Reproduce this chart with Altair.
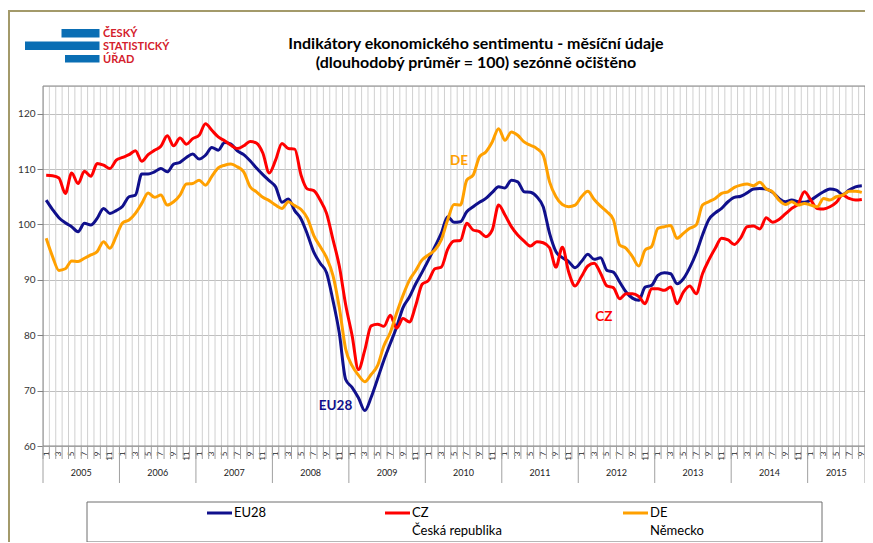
import altair as alt
import pandas as pd

# ---------------- data (monthly, Jan 2005 .. Sep 2015) ----------------
years = [2005, 2006, 2007, 2008, 2009, 2010, 2011, 2012, 2013, 2014, 2015]
year_months = [12, 12, 12, 12, 12, 12, 12, 12, 12, 12, 9]
series_names = ["EU28", "CZ", "DE"]
series_colors = ["#10108C", "#FF0000", "#FFA000"]

eu28 = [104.4, 102.7, 101.2, 100.3, 99.6, 98.7, 100.2, 99.9, 101.1, 102.9, 102.0, 102.5,
        103.3, 105.0, 105.3, 109.1, 109.1, 109.5, 110.1, 109.5, 110.9, 111.2, 112.1, 112.7,
        111.8, 112.5, 113.9, 113.4, 114.8, 114.5, 113.3, 112.6, 111.5, 110.2, 109.0, 107.9,
        106.8, 104.0, 104.6, 102.5, 101.0, 98.2, 95.0, 93.0, 91.3, 86.3, 80.4, 72.0,
        70.6, 68.7, 66.4, 68.8, 72.1, 75.5, 78.5, 81.5, 85.0, 86.9, 89.3, 91.4,
        93.6, 96.0, 98.4, 101.4, 100.4, 100.5, 102.3, 103.2, 104.0, 104.7, 105.8, 106.8,
        106.6, 108.0, 107.7, 105.9, 105.8, 105.0, 103.2, 98.4, 95.1, 94.0, 93.3, 92.2,
        93.3, 94.6, 93.7, 94.0, 91.7, 91.4, 89.6, 87.8, 86.7, 86.3, 88.7, 89.0,
        90.8, 91.3, 91.1, 89.3, 90.2, 92.2, 94.8, 98.1, 100.9, 102.1, 102.9, 104.1,
        104.9, 105.1, 105.7, 106.4, 106.5, 106.4, 105.8, 104.7, 104.1, 104.4, 104.1, 104.0,
        104.4, 105.2, 105.9, 106.4, 106.2, 105.4, 106.2, 106.8, 107.0]

cz = [108.9, 108.8, 108.4, 105.6, 109.3, 107.4, 109.6, 108.7, 111.0, 110.7, 110.1, 111.6,
      112.1, 112.6, 113.3, 111.4, 112.6, 113.4, 114.1, 116.0, 114.2, 115.6, 114.5, 115.5,
      116.1, 118.2, 117.0, 115.8, 115.1, 114.3, 113.7, 114.2, 115.0, 114.7, 112.9, 109.3,
      111.6, 114.6, 113.7, 113.6, 108.9, 106.4, 106.1, 104.4, 102.0, 97.3, 92.5, 85.5,
      80.0, 73.8, 77.3, 81.7, 82.0, 81.6, 83.6, 81.3, 83.0, 82.4, 85.4, 89.2,
      89.9, 92.0, 92.3, 95.5, 97.0, 97.1, 100.2, 99.0, 98.7, 97.8, 99.0, 103.5,
      101.7, 99.6, 98.1, 97.0, 96.1, 96.9, 96.7, 95.8, 92.3, 95.9, 91.4, 88.9,
      90.6, 92.5, 93.0, 91.2, 88.9, 88.6, 86.6, 87.5, 87.5, 87.0, 85.7, 88.4,
      88.4, 88.1, 88.7, 85.7, 87.8, 88.9, 87.5, 91.1, 93.6, 95.7, 97.5, 97.2,
      96.4, 97.6, 99.6, 99.7, 99.2, 101.2, 100.4, 100.9, 101.9, 102.9, 103.7, 105.9,
      104.4, 102.9, 102.8, 103.2, 104.0, 105.3, 104.7, 104.4, 104.5]

de = [97.5, 94.2, 91.7, 92.0, 93.4, 93.3, 93.9, 94.5, 95.1, 96.9, 95.7, 97.9,
      100.3, 100.8, 102.0, 103.8, 105.7, 104.9, 105.3, 103.5, 104.1, 105.3, 107.3, 107.4,
      108.0, 107.1, 108.7, 110.2, 110.7, 110.9, 110.4, 109.5, 106.8, 105.9, 104.9, 104.3,
      103.5, 102.9, 104.1, 103.4, 102.7, 101.1, 98.0, 96.0, 94.0, 90.8, 85.0, 77.5,
      74.5, 72.8, 71.6, 72.9, 74.5, 78.1, 80.5, 84.0, 87.2, 89.9, 91.7, 93.6,
      94.5, 95.4, 97.2, 100.8, 103.6, 103.5, 108.0, 108.9, 112.2, 113.1, 114.9, 117.3,
      115.2, 116.7, 116.1, 114.9, 114.3, 113.7, 112.5, 107.7, 105.0, 103.6, 103.2, 103.5,
      105.0, 106.0, 104.5, 103.3, 102.3, 100.9, 96.3, 95.7, 94.2, 92.5, 95.4, 96.0,
      99.3, 99.6, 99.8, 97.5, 98.4, 99.3, 99.9, 103.5, 104.1, 104.7, 105.6, 105.9,
      106.7, 107.1, 107.3, 107.0, 107.6, 106.4, 105.9, 104.4, 103.6, 104.1, 103.5, 103.8,
      103.5, 103.2, 104.7, 104.4, 105.0, 105.3, 106.0, 106.0, 105.8]

y_ticks = [60, 70, 80, 90, 100, 110, 120]
title_lines = ["Indikátory ekonomického sentimentu - měsíční údaje",
               "(dlouhodobý průměr = 100) sezónně očištěno"]
legend_sub = {"EU28": "", "CZ": "Česká republika", "DE": "Německo"}
logo_lines = ["ČESKÝ", "STATISTICKÝ", "ÚŘAD"]

# ---------------- tables ----------------
n = len(eu28)
rows = []
for name, vals in zip(series_names, [eu28, cz, de]):
    for i, v in enumerate(vals):
        rows.append({"idx": i + 0.5, "value": v, "series": name})
df = pd.DataFrame(rows)

bounds = pd.DataFrame({"b": list(range(n + 1))})
year_start = [sum(year_months[:k]) for k in range(len(years))]
year_bounds = pd.DataFrame({"b": year_start + [n]})
year_df = pd.DataFrame({"year": [str(y) for y in years],
                        "c": [s + m / 2 for s, m in zip(year_start, year_months)]})

annot = pd.DataFrame({
    "label": ["DE", "EU28", "CZ"],
    "x": [65.3, 45.9, 88.0],
    "y": [111.5, 67.2, 83.3],
    "color": ["#FFA000", "#10108C", "#FF0000"],
})

W, H = 822, 360
FONT = "Lato"
xscale = alt.Scale(domain=[0, n], nice=False, zero=False)
yscale = alt.Scale(domain=[60, 125], nice=False, zero=False)

x_axis = alt.Axis(values=[i + 0.5 for i in range(0, n, 2)],
                  labelExpr="floor(datum.value) % 12 + 1",
                  labelAngle=270, ticks=False, domain=False, grid=False, title=None,
                  labelFontSize=8, labelFont=FONT, labelColor="#222222", labelPadding=5)
y_axis = alt.Axis(values=y_ticks, grid=True, gridColor="#BFBFBF", gridWidth=1,
                  domain=False, ticks=True, tickColor="#808080", tickSize=6,
                  labelFontSize=10, labelFont=FONT, labelColor="#333333",
                  labelPadding=2, title=None)


def X(field):
    return alt.X(field, scale=xscale, axis=x_axis)


def Y(field):
    return alt.Y(field, scale=yscale, axis=y_axis)


one = pd.DataFrame({"k": [0]})

# base layer carrying the axes
base = alt.Chart(df).mark_point(opacity=0).encode(x=X("idx:Q"), y=Y("value:Q"))

# frame
frame = alt.Chart(one).mark_rect(filled=False, stroke="#A39A6A", strokeWidth=2).encode(
    x=alt.value(-34), x2=alt.value(900), y=alt.value(-75), y2=alt.value(600))

# vertical gridlines (month boundaries)
vgrid = alt.Chart(bounds).transform_filter("datum.b > 0 && datum.b < %d" % n).mark_rule(
    color="#D0D0D0", strokeWidth=1).encode(
    x=X("b:Q"), y=alt.value(0), y2=alt.value(H))

# plot border
border = alt.Chart(one).mark_rect(filled=False, stroke="#868686", strokeWidth=1).encode(
    x=alt.value(0), x2=alt.value(W), y=alt.value(0), y2=alt.value(H))

# month ticks below axis
mticks = alt.Chart(bounds).mark_rule(color="#A0A0A0", strokeWidth=1).encode(
    x=X("b:Q"), y=alt.value(H), y2=alt.value(H + 13))
# year separators
yticks = alt.Chart(year_bounds).mark_rule(color="#A0A0A0", strokeWidth=1).encode(
    x=X("b:Q"), y=alt.value(H), y2=alt.value(H + 37))
ylabels = alt.Chart(year_df).mark_text(fontSize=9, font=FONT, color="#222222",
                                       baseline="middle").encode(
    x=X("c:Q"), y=alt.value(H + 27), text="year:N")

# data lines
line_layers = []
for name, col in zip(series_names, series_colors):
    line_layers.append(
        alt.Chart(df).transform_filter(alt.datum.series == name).mark_line(
            strokeWidth=3, interpolate="monotone", color=col).encode(
            x=X("idx:Q"), y=Y("value:Q")))

annots = alt.Chart(annot).mark_text(fontSize=13.5, fontWeight="bold", font=FONT,
                                    baseline="middle").encode(
    x=X("x:Q"), y=Y("y:Q"),
    text="label:N",
    color=alt.Color("color:N", scale=None))

# title
title_layers = [
    alt.Chart(one).mark_text(text=t, fontSize=16, fontWeight="bold", font=FONT,
                             color="#000000", baseline="middle").encode(
        x=alt.value(433), y=alt.value(yy))
    for t, yy in zip(title_lines, [-42, -23])
]

# logo
logo_blue = "#0A6EB4"
logo_red = "#D4202C"
bar1 = alt.Chart(one).mark_rect(color=logo_blue).encode(
    x=alt.value(18.5), x2=alt.value(56.5), y=alt.value(-57), y2=alt.value(-48.5))
bar2 = alt.Chart(one).mark_rect(color=logo_blue).encode(
    x=alt.value(-18), x2=alt.value(56.5), y=alt.value(-44.5), y2=alt.value(-36))
bar3 = alt.Chart(one).mark_rect(color=logo_blue).encode(
    x=alt.value(22), x2=alt.value(56.5), y=alt.value(-31), y2=alt.value(-23.5))
logo_txt = [
    alt.Chart(one).mark_text(text=t, fontSize=11, fontWeight="bold", font=FONT,
                             color=logo_red, align="left", baseline="alphabetic").encode(
        x=alt.value(60), y=alt.value(yy))
    for t, yy in zip(logo_lines, [-49, -36, -23.5])
]

# legend
leg_box = alt.Chart(one).mark_rect(fill="white", stroke="#6E6E6E", strokeWidth=1).encode(
    x=alt.value(44), x2=alt.value(779), y=alt.value(416), y2=alt.value(456))
leg_x = [164, 342, 580]
leg_layers = [leg_box]
for name, col, lx in zip(series_names, series_colors, leg_x):
    leg_layers.append(alt.Chart(one).mark_rule(color=col, strokeWidth=3).encode(
        x=alt.value(lx), x2=alt.value(lx + 25), y=alt.value(427)))
    leg_layers.append(alt.Chart(one).mark_text(text=name, fontSize=13, font=FONT,
                                               color="#000000", align="left",
                                               baseline="middle").encode(
        x=alt.value(lx + 27), y=alt.value(427)))
    if legend_sub[name]:
        leg_layers.append(alt.Chart(one).mark_text(text=legend_sub[name], fontSize=13,
                                                   font=FONT, color="#000000",
                                                   align="left",
                                                   baseline="middle").encode(
            x=alt.value(lx + 27), y=alt.value(444.5)))

chart = alt.layer(
    base, frame, vgrid, border, mticks, yticks, ylabels, *line_layers, annots,
    *title_layers, bar1, bar2, bar3, *logo_txt, *leg_layers
).properties(
    width=W, height=H,
    autosize=alt.AutoSizeParams(type="none"),
    padding={"left": 35, "top": 78, "right": 0, "bottom": 96},
).configure_view(stroke="#868686", strokeWidth=1).configure(background="white")

chart.save("out.html", embed_options={"renderer": "svg", "actions": False})
